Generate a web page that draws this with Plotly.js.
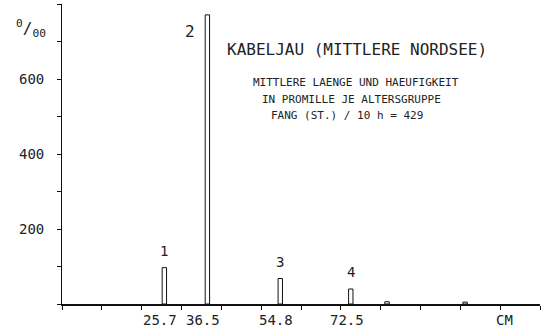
<!DOCTYPE html>
<html><head><meta charset="utf-8">
<script src="https://cdn.plot.ly/plotly-3.0.1.min.js"></script>
<style>html,body{margin:0;padding:0;background:#fff}#chart{width:547px;height:332px}</style>
</head><body><div id="chart"></div>
<script>
// ---- data ----
const ageGroups = ["1", "2", "3", "4"];
const meanLengthCm = [25.7, 36.5, 54.8, 72.5];
const perMille = [97, 771, 68, 40];
const minorLengthCm = [81.6, 101.2];
const minorPerMille = [6, 5];
const yTickValues = [0, 100, 200, 300, 400, 500, 600, 700, 800];
const yTickLabels = ["200", "400", "600"];
const yLabelValues = [200, 400, 600];
const xTickValues = [0, 10, 20, 30, 40, 50, 60, 70, 80, 90, 100, 110, 120];
const xUnit = "CM";
const yUnit = "<sup>0</sup>/<sub>00</sub>";
const titleText = "KABELJAU (MITTLERE NORDSEE)";
const subtitleLines = [
  "MITTLERE LAENGE UND HAEUFIGKEIT",
  "IN PROMILLE JE ALTERSGRUPPE",
  "FANG (ST.) / 10 h = 429"
];

// ---- styles ----
const ink = "#111";
const txt = "#222";
const mono = "DejaVu Sans Mono, monospace";

const barStyle = {
  type: "bar", width: 1.1,
  marker: {color: "#fff", line: {color: ink, width: 1}},
  hoverinfo: "skip", showlegend: false
};

const traces = [
  Object.assign({x: meanLengthCm, y: perMille}, barStyle),
  Object.assign({x: minorLengthCm, y: minorPerMille}, barStyle)
];

const annotations = [];
ageGroups.forEach((g, i) => {
  const tall = perMille[i] > 500;
  annotations.push({
    x: meanLengthCm[i], y: perMille[i], xref: "x", yref: "y",
    text: g, showarrow: false,
    xanchor: "center", yanchor: tall ? "middle" : "bottom",
    xshift: tall ? -17 : 0, yshift: tall ? -17 : 7,
    font: {family: mono, size: tall ? 16 : 14, color: txt}
  });
});
meanLengthCm.forEach(v => {
  annotations.push({
    x: v, y: 0, xref: "x", yref: "y", text: v.toFixed(1), showarrow: false,
    xanchor: "center", yanchor: "top", xshift: -4, yshift: -6,
    font: {family: mono, size: 14, color: txt}
  });
});
annotations.push({
  x: 111, y: 0, xref: "x", yref: "y", text: xUnit, showarrow: false,
  xanchor: "center", yanchor: "top", yshift: -6,
  font: {family: mono, size: 14, color: txt}
});
yLabelValues.forEach((v, i) => {
  annotations.push({
    x: 0, y: v, xref: "x", yref: "y", text: yTickLabels[i], showarrow: false,
    xanchor: "right", yanchor: "middle", xshift: -16,
    font: {family: mono, size: 14, color: txt}
  });
});
annotations.push({
  x: -0.065, y: 0.917, xref: "paper", yref: "paper", text: yUnit, showarrow: false,
  xanchor: "center", yanchor: "middle",
  font: {family: mono, size: 16, color: txt}
});
annotations.push({
  x: 0.617, y: 0.847, xref: "paper", yref: "paper", text: titleText, showarrow: false,
  xanchor: "center", yanchor: "middle",
  font: {family: mono, size: 16, color: txt}
});
const subX = [0.615, 0.605, 0.596];
const subY = [0.74, 0.683, 0.627];
subtitleLines.forEach((s, i) => {
  annotations.push({
    x: subX[i], y: subY[i], xref: "paper", yref: "paper", text: s, showarrow: false,
    xanchor: "center", yanchor: "middle",
    font: {family: mono, size: 11, color: txt}
  });
});

const layout = {
  width: 547, height: 332,
  margin: {l: 62, r: 7, t: 4, b: 28},
  paper_bgcolor: "#fff", plot_bgcolor: "#fff",
  xaxis: {
    range: [0, 120], showgrid: false, zeroline: false,
    showline: true, linecolor: ink, linewidth: 1.5,
    tickmode: "array", tickvals: xTickValues, showticklabels: false,
    ticks: "outside", ticklen: 4, tickcolor: ink, tickwidth: 1
  },
  yaxis: {
    range: [0, 800], showgrid: false, zeroline: false,
    showline: true, linecolor: ink, linewidth: 1.5,
    tickmode: "array", tickvals: yTickValues, showticklabels: false,
    ticks: "outside", ticklen: 4, tickcolor: ink, tickwidth: 1
  },
  annotations: annotations,
  showlegend: false
};

Plotly.newPlot("chart", traces, layout, {staticPlot: true, displayModeBar: false});
</script>
</body></html>
